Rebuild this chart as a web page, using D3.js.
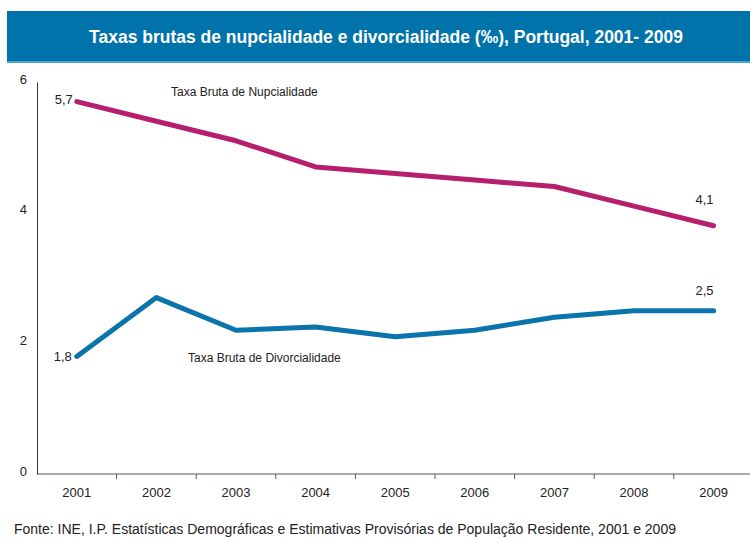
<!DOCTYPE html>
<html lang="pt">
<head>
<meta charset="utf-8">
<title>Taxas brutas de nupcialidade e divorcialidade</title>
<style>
body{
  margin: 0;
  background: #fff;
}
svg text{
  font-family: "Liberation Sans", Arial, sans-serif;
  fill: #222;
}
</style>
</head>
<body>
<div id="chart"></div>
<script src="https://d3js.org/d3.v7.min.js"></script>
<script>

const years = ['2001','2002','2003','2004','2005','2006','2007','2008','2009'];
const nupcialidade = [5.7, 5.4, 5.1, 4.7, 4.6, 4.5, 4.4, 4.1, 3.8];
const divorcialidade = [1.8, 2.7, 2.2, 2.25, 2.1, 2.2, 2.4, 2.5, 2.5];
const yTicks = [0, 2, 4, 6];

const width = 750;
const height = 539;
const margin = { top: 82, right: 0, bottom: 65, left: 37 };

const svg = d3.select('#chart')
  .append('svg')
  .attr('width', width)
  .attr('height', height);

// title bar
svg.append('rect')
  .attr('x', 7).attr('y', 11)
  .attr('width', width - 7).attr('height', 51)
  .attr('fill', '#0073aa');
svg.append('rect')
  .attr('x', 7).attr('y', 61)
  .attr('width', width - 7).attr('height', 2)
  .attr('fill', '#4aa3d3');
svg.append('text')
  .attr('x', 386).attr('y', 43)
  .attr('text-anchor', 'middle')
  .style('fill', '#fff')
  .style('font-weight', 'bold')
  .style('font-size', '17.5px')
  .text('Taxas brutas de nupcialidade e divorcialidade (‰), Portugal, 2001- 2009');

const xS = d3.scaleBand()
  .domain(years)
  .range([margin.left, margin.left + 9 * 79.6]);

const yS = d3.scaleLinear()
  .domain([0, 6])
  .range([height - margin.bottom, margin.top]);

// y axis
const yAxis = svg.append('g')
  .attr('transform', 'translate(' + margin.left + ',0)')
  .call(d3.axisLeft(yS).tickValues(yTicks).tickFormat(d3.format('d')).tickSize(0).tickPadding(10));
yAxis.select('.domain').attr('stroke', '#333');
yAxis.selectAll('text').style('font-size', '13px').attr('dy', '0.1em');

// x axis
const xAxis = svg.append('g')
  .attr('transform', 'translate(0,' + yS(0) + ')')
  .call(d3.axisBottom(xS).tickSize(0).tickPadding(14));
xAxis.select('.domain').attr('stroke', '#555').attr('d', 'M' + margin.left + ',0H' + width);
xAxis.selectAll('text').style('font-size', '13px');
xAxis.selectAll('.bnd')
  .data(years.slice(1))
  .join('line')
  .attr('x1', d => xS(d)).attr('x2', d => xS(d))
  .attr('y1', 0).attr('y2', 5)
  .attr('stroke', '#555');

const line = d3.line()
  .x((d, i) => xS(years[i]) + xS.bandwidth() / 2)
  .y(d => yS(d));

svg.append('path')
  .datum(nupcialidade)
  .attr('fill', 'none')
  .attr('stroke', '#b51f6e')
  .attr('stroke-width', 5)
  .attr('stroke-linejoin', 'round')
  .attr('stroke-linecap', 'round')
  .attr('d', line);

svg.append('path')
  .datum(divorcialidade)
  .attr('fill', 'none')
  .attr('stroke', '#0a74ab')
  .attr('stroke-width', 5)
  .attr('stroke-linejoin', 'round')
  .attr('stroke-linecap', 'round')
  .attr('d', line);

const cx = y => xS(y) + xS.bandwidth() / 2;

// value labels
svg.append('text').attr('x', cx('2001') - 4).attr('y', yS(5.7) + 2)
  .attr('text-anchor', 'end').style('font-size', '13px').text('5,7');
svg.append('text').attr('x', cx('2009')).attr('y', yS(3.8) - 22)
  .attr('text-anchor', 'end').style('font-size', '13px').text('4,1');
svg.append('text').attr('x', cx('2009')).attr('y', yS(2.5) - 16)
  .attr('text-anchor', 'end').style('font-size', '13px').text('2,5');
svg.append('text').attr('x', cx('2001') - 5).attr('y', yS(1.8) + 5)
  .attr('text-anchor', 'end').style('font-size', '13px').text('1,8');

// series labels
svg.append('text').attr('x', 171).attr('y', 96)
  .style('font-size', '12px').text('Taxa Bruta de Nupcialidade');
svg.append('text').attr('x', 188).attr('y', 362)
  .style('font-size', '12px').text('Taxa Bruta de Divorcialidade');

// source
svg.append('text').attr('x', 14).attr('y', 534)
  .style('font-size', '14px')
  .text('Fonte: INE, I.P. Estatísticas Demográficas e Estimativas Provisórias de População Residente, 2001 e 2009');

</script>
</body>
</html>
